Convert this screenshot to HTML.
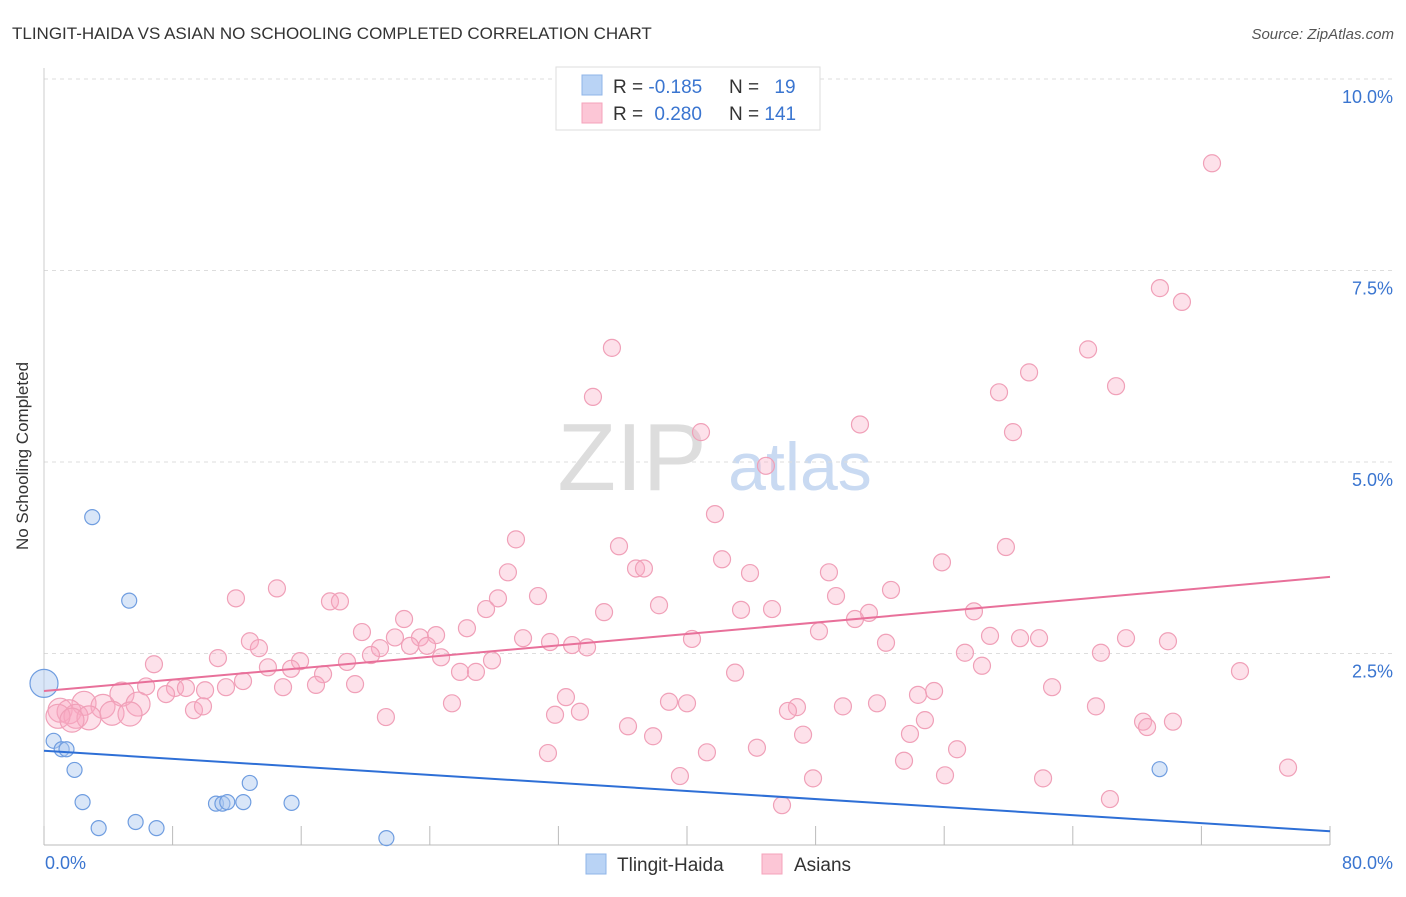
<!DOCTYPE html>
<html><head><meta charset="utf-8"><style>
body{margin:0;background:#fff;font-family:"Liberation Sans",sans-serif;}
svg text{font-family:"Liberation Sans",sans-serif;}
</style></head><body>
<svg id="chart" width="1406" height="892" xmlns="http://www.w3.org/2000/svg">
<text x="12" y="39" font-size="17" fill="#333">TLINGIT-HAIDA VS ASIAN NO SCHOOLING COMPLETED CORRELATION CHART</text>
<text x="1394" y="39" font-size="15" fill="#555" font-style="italic" text-anchor="end">Source: ZipAtlas.com</text>
<text x="28" y="456" font-size="17" fill="#333" text-anchor="middle" transform="rotate(-90 28 456)">No Schooling Completed</text>
<g><text x="632" y="490" font-size="96" font-family="Liberation Serif,serif" fill="#ddd" text-anchor="middle">ZIP</text><text x="800" y="490" font-size="68" fill="#c9daf2" text-anchor="middle">atlas</text></g>
<g id="grid"></g><g id="axes"></g><g id="pts"></g><g id="trend"></g>
<g>
<rect x="556" y="67" width="264" height="63" fill="#fff" stroke="#ddd"/>
<rect x="582" y="75" width="20" height="20" fill="#b9d3f5" stroke="#8fb4e8"/>
<rect x="582" y="103" width="20" height="20" fill="#fcc6d6" stroke="#f5a3bb"/>
<text x="613" y="93" font-size="19" fill="#333">R = <tspan fill="#3a75d0">-0.185</tspan></text><text x="729" y="93" font-size="19" fill="#333">N = <tspan fill="#3a75d0" dx="10">19</tspan></text>
<text x="613" y="120" font-size="19" fill="#333">R = <tspan fill="#3a75d0" dx="6">0.280</tspan></text><text x="729" y="120" font-size="19" fill="#333">N = <tspan fill="#3a75d0">141</tspan></text>
</g>
<g>
<rect x="586" y="854" width="20" height="20" fill="#b9d3f5" stroke="#8fb4e8"/>
<text x="617" y="871" font-size="19" fill="#333">Tlingit-Haida</text>
<rect x="762" y="854" width="20" height="20" fill="#fcc6d6" stroke="#f5a3bb"/>
<text x="794" y="871" font-size="19" fill="#333">Asians</text>
</g>
</svg>
<script>
const yTicks=[2.5,5,7.5,10];
const yTickLabels=["2.5%","5.0%","7.5%","10.0%"];
const xTicks=[0,8,16,24,32,40,48,56,64,72,80];
const blueX=[0,0.6,1.1,1.4,1.9,3.0,2.4,3.4,5.3,5.7,7.0,10.7,11.1,11.4,12.4,12.8,15.4,21.3,69.4];
const blueY=[2.11,1.36,1.25,1.25,0.98,4.28,0.56,0.22,3.19,0.30,0.22,0.54,0.54,0.56,0.56,0.81,0.55,0.09,0.99];
const pinkX=[72.66,69.42,70.79,35.33,64.95,61.28,66.69,59.41,34.15,40.87,50.76,60.28,44.91,41.74,29.36,35.77,59.84,42.18,55.86,36.83,37.32,28.86,43.92,48.83,52.69,14.49,11.94,17.79,18.41,28.24,30.73,49.27,22.40,27.50,34.84,38.26,43.36,45.29,57.85,51.32,50.45,19.78,26.31,29.80,31.48,21.83,23.39,24.39,48.21,58.85,60.72,61.90,67.31,69.92,12.81,13.37,20.90,22.77,23.83,32.85,33.78,40.31,52.38,6.84,10.82,15.93,20.34,24.70,27.87,57.29,65.75,18.85,13.93,15.37,17.36,25.88,26.87,58.35,74.40,12.38,42.99,6.35,8.15,8.83,10.02,11.32,4.85,7.59,14.87,16.92,19.35,62.71,55.37,54.37,32.47,25.38,38.88,40.00,51.82,49.70,46.84,46.28,65.44,5.85,9.33,9.89,2.49,3.67,1.00,1.56,1.99,2.80,4.23,5.35,0.87,1.74,31.79,33.34,21.27,54.80,36.33,68.37,68.62,70.23,53.87,37.89,47.22,31.35,41.24,44.35,56.80,53.50,39.56,47.84,56.05,62.15,77.39,66.31,45.91];
const pinkY=[8.90,7.27,7.09,6.49,6.47,6.17,5.99,5.91,5.85,5.39,5.49,5.39,4.95,4.32,3.99,3.90,3.89,3.73,3.69,3.61,3.61,3.56,3.55,3.56,3.33,3.35,3.22,3.18,3.18,3.22,3.25,3.25,2.95,3.08,3.04,3.13,3.07,3.08,3.05,3.03,2.95,2.78,2.83,2.70,2.65,2.71,2.71,2.74,2.79,2.73,2.70,2.70,2.70,2.66,2.66,2.57,2.57,2.60,2.60,2.61,2.58,2.69,2.64,2.36,2.44,2.40,2.48,2.45,2.41,2.51,2.51,2.39,2.32,2.30,2.23,2.26,2.26,2.34,2.27,2.14,2.25,2.07,2.05,2.05,2.02,2.06,1.97,1.97,2.06,2.09,2.10,2.06,2.01,1.96,1.93,1.85,1.87,1.85,1.85,1.81,1.80,1.75,1.81,1.84,1.76,1.81,1.85,1.81,1.76,1.74,1.68,1.66,1.72,1.71,1.68,1.63,1.70,1.74,1.67,1.63,1.55,1.61,1.54,1.61,1.45,1.42,1.44,1.20,1.21,1.27,1.25,1.10,0.90,0.87,0.91,0.87,1.01,0.60,0.52];
const blueTrend=[1.23,0.18];
const pinkTrend=[2.01,3.50];
const NS="http://www.w3.org/2000/svg";
const X=v=>44+v*16.075, Y=v=>845-v*76.6;
function mk(t,a,p){const e=document.createElementNS(NS,t);for(const k in a)e.setAttribute(k,a[k]);document.getElementById(p).appendChild(e);return e;}
yTicks.forEach((t,i)=>{
 const g=mk('line',{x1:44,x2:1394,y1:Y(t),y2:Y(t),stroke:'#ddd','stroke-dasharray':'4,4'},'grid');
 
 
 const l=mk('text',{x:1393,y:Y(t)+24,'font-size':18,fill:'#3a75d0','text-anchor':'end'},'grid');l.textContent=yTickLabels[i];
 
 
});
const ax=mk('line',{x1:44,x2:44,y1:68,y2:845,stroke:'#ccc'},'axes');


const bx=mk('line',{x1:44,x2:1330,y1:845,y2:845,stroke:'#bbb'},'axes');


xTicks.forEach(t=>{const k=mk('line',{x1:X(t),x2:X(t),y1:826,y2:845,stroke:'#bbb'},'axes');
 
 });
const l0=mk('text',{x:45,y:869,'font-size':18,fill:'#3a75d0'},'axes');l0.textContent='0.0%';


const l1=mk('text',{x:1393,y:869,'font-size':18,fill:'#3a75d0','text-anchor':'end'},'axes');l1.textContent='80.0%';


pinkX.forEach((v,i)=>{const r=v<6?12:8.5;const c=mk('circle',{cx:X(v),cy:Y(pinkY[i]),r:r,fill:'rgba(248,170,195,0.35)',stroke:'#f0a0b8','stroke-width':1.2},'pts');
 
 });
blueX.forEach((v,i)=>{const r=i==0?14:7.5;const c=mk('circle',{cx:X(v),cy:Y(blueY[i]),r:r,fill:'rgba(170,200,240,0.45)',stroke:'#6f9de0','stroke-width':1.2},'pts');
 
 });
const tb=mk('line',{x1:X(0),y1:Y(blueTrend[0]),x2:X(80),y2:Y(blueTrend[1]),stroke:'#2e6fd6','stroke-width':2},'trend');


const tp=mk('line',{x1:X(0),y1:Y(pinkTrend[0]),x2:X(80),y2:Y(pinkTrend[1]),stroke:'#e8709a','stroke-width':2},'trend');


</script>
</body></html>
